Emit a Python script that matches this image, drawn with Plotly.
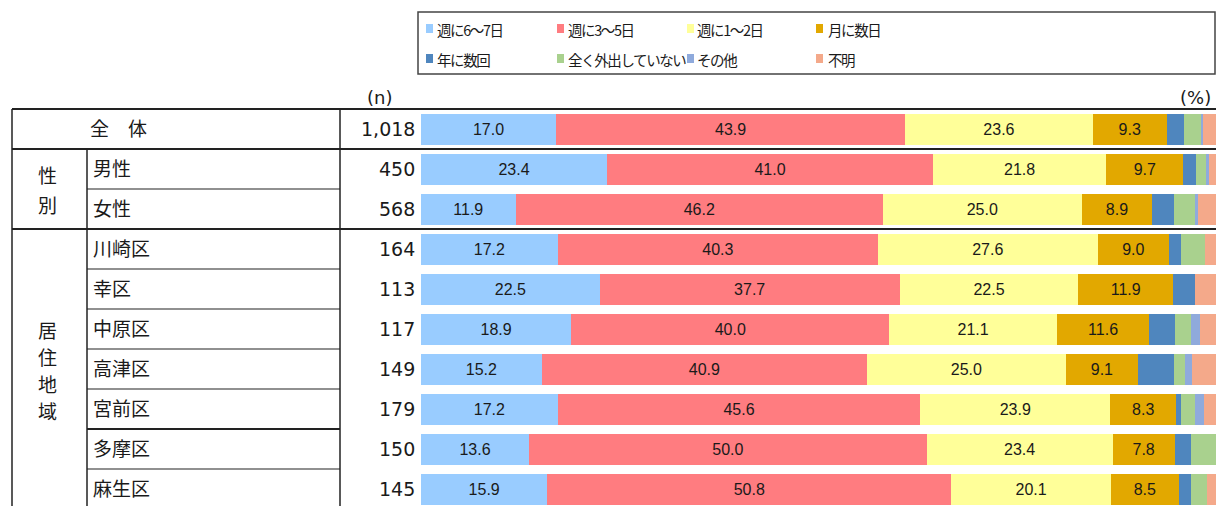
import plotly.graph_objects as go

# ---- data ----
categories = ["全体", "男性", "女性", "川崎区", "幸区", "中原区", "高津区", "宮前区", "多摩区", "麻生区"]
row_labels = ["全　体", "男性", "女性", "川崎区", "幸区", "中原区", "高津区", "宮前区", "多摩区", "麻生区"]
n_labels = ["1,018", "450", "568", "164", "113", "117", "149", "179", "150", "145"]
series_names = ["週に6～7日", "週に3～5日", "週に1～2日", "月に数日",
                "年に数回", "全く外出していない", "その他", "不明"]

s_6_7 = [17.0, 23.4, 11.9, 17.2, 22.5, 18.9, 15.2, 17.2, 13.6, 15.9]
s_3_5 = [43.9, 41.0, 46.2, 40.3, 37.7, 40.0, 40.9, 45.6, 50.0, 50.8]
s_1_2 = [23.6, 21.8, 25.0, 27.6, 22.5, 21.1, 25.0, 23.9, 23.4, 20.1]
s_month = [9.3, 9.7, 8.9, 9.0, 11.9, 11.6, 9.1, 8.3, 7.8, 8.5]
s_year = [2.2, 1.6, 2.7, 1.5, 2.7, 3.2, 4.5, 0.6, 2.0, 1.6]
s_none = [2.1, 1.2, 2.7, 3.0, 0.0, 2.1, 1.4, 1.8, 3.2, 2.0]
s_other = [0.3, 0.4, 0.3, 0.0, 0.0, 1.1, 0.9, 1.1, 0.0, 0.0]
s_unknown = [1.6, 0.9, 2.3, 1.4, 2.7, 2.0, 3.0, 1.5, 0.0, 1.1]

series_values = [s_6_7, s_3_5, s_1_2, s_month, s_year, s_none, s_other, s_unknown]
show_value = [True, True, True, True, False, False, False, False]

colors = ["#99CCFF", "#FF7C80", "#FFFF99", "#E2A800",
          "#4F86BE", "#A9D18E", "#8FAADC", "#F4A98A"]

W, H = 1216, 506
def px(x):
    return x / W
def py(y):
    return 1 - y / H

JP = "DejaVu Sans, Noto Sans CJK JP"
JPL = "Noto Sans CJK JP"

def tight(s):
    return '<span style="letter-spacing:-1.4px">' + s + '</span>'

fig = go.Figure()
for name, color, vals, lab in zip(series_names, colors, series_values, show_value):
    fig.add_trace(go.Bar(
        y=categories, x=vals, name=name, orientation="h",
        marker=dict(color=color, line=dict(width=0)),
        texttemplate="%{x:.1f}" if lab else None,
        textposition="inside" if lab else "none",
        insidetextanchor="middle",
        textangle=0,
        textfont=dict(family="Liberation Sans, Arial", size=16, color="#1a1a1a"),
        showlegend=False, hoverinfo="skip",
    ))

fig.update_layout(
    barmode="stack", bargap=0.225,
    width=W, height=H, margin=dict(l=0, r=0, t=0, b=0),
    plot_bgcolor="white", paper_bgcolor="white",
)
fig.update_xaxes(domain=[421 / W, 1], range=[0, 100], visible=False)
fig.update_yaxes(type="category", categoryorder="array", categoryarray=categories,
                 range=[9.425, -3.225], visible=False)

shapes = []
line_col = "#222222"
def hline(yv, x0, x1, w):
    shapes.append(dict(type="line", xref="paper", yref="y", x0=px(x0), x1=px(x1),
                       y0=yv, y1=yv, line=dict(color=line_col, width=w)))
def vline(xv, y0, y1, w):
    shapes.append(dict(type="line", xref="paper", yref="y", x0=px(xv), x1=px(xv),
                       y0=y0, y1=y1, line=dict(color=line_col, width=w)))

hline(-0.5, 12, 1216, 2)
hline(0.5, 12, 1216, 2)
hline(2.5, 12, 1216, 2)
hline(1.5, 87, 340, 1.2)
for yv in [3.5, 4.5, 5.5, 6.5, 8.5]:
    hline(yv, 87, 340, 1.2)
hline(7.5, 87, 340, 2)
vline(12, -0.5, 9.6, 1.5)
vline(87, 0.5, 9.6, 1.5)
vline(340, -0.5, 9.6, 1.5)

annotations = []
for i, (cat, lab, nl) in enumerate(zip(categories, row_labels, n_labels)):
    if i == 0:
        annotations.append(dict(x=px(118), y=cat, xref="paper", yref="y", text=lab,
                                showarrow=False, xanchor="center", yanchor="middle",
                                font=dict(family=JP, size=19, color="#1a1a1a")))
    else:
        annotations.append(dict(x=px(91), y=cat, xref="paper", yref="y", text=lab,
                                showarrow=False, xanchor="left", yanchor="middle",
                                font=dict(family=JP, size=19, color="#1a1a1a")))
    annotations.append(dict(x=px(417), y=cat, xref="paper", yref="y", text=nl,
                            showarrow=False, xanchor="right", yanchor="middle",
                            font=dict(family=JP, size=19, color="#1a1a1a")))

group_chars = [("性", 175.5), ("別", 205.5), ("居", 330.5), ("住", 357.5), ("地", 385), ("域", 411.5)]
for ch, yy in group_chars:
    annotations.append(dict(x=px(47), y=py(yy), xref="paper", yref="paper", text=ch,
                            showarrow=False, xanchor="center", yanchor="middle",
                            font=dict(family=JP, size=19, color="#1a1a1a")))

annotations.append(dict(x=px(379), y=py(97), xref="paper", yref="paper", text="(n)",
                        showarrow=False, xanchor="center", yanchor="middle",
                        font=dict(family=JP, size=18, color="#1a1a1a")))
annotations.append(dict(x=px(1213), y=py(97), xref="paper", yref="paper", text="(%)",
                        showarrow=False, xanchor="right", yanchor="middle",
                        font=dict(family=JP, size=18, color="#1a1a1a")))

# legend (custom box)
shapes.append(dict(type="rect", xref="paper", yref="paper", x0=px(418), x1=px(1215),
                   y0=py(12), y1=py(74), line=dict(color="#444", width=1.5),
                   fillcolor="rgba(0,0,0,0)"))
mk_x = [426, 557, 687, 816]
tx_x = [435, 566, 695, 826]
row_y = [29, 59]
for i, (name, color) in enumerate(zip(series_names, colors)):
    c, r = i % 4, i // 4
    yc = row_y[r]
    shapes.append(dict(type="rect", xref="paper", yref="paper",
                       x0=px(mk_x[c]), x1=px(mk_x[c] + 7),
                       y0=py(yc - 5), y1=py(yc + 4),
                       line=dict(width=0), fillcolor=color))
    annotations.append(dict(x=px(tx_x[c]), y=py(yc), xref="paper", yref="paper",
                            text=tight(name), showarrow=False, xanchor="left", yanchor="middle",
                            font=dict(family=JPL, size=14.5, color="#1a1a1a")))

fig.update_layout(shapes=shapes, annotations=annotations)
fig.write_html("out.html", config={"displayModeBar": False},
               post_script="document.body.style.margin='0';document.body.style.overflow='hidden';")
